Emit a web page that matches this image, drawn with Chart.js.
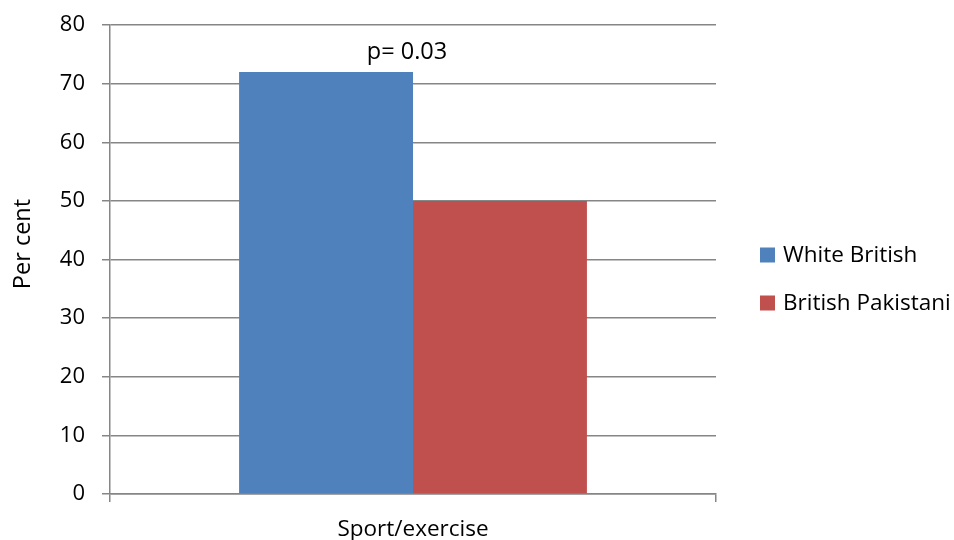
<!DOCTYPE html>
<html>
<head>
<meta charset="utf-8">
<script src="https://cdn.jsdelivr.net/npm/chart.js@4"></script>
<style>
  html, body { margin: 0; padding: 0; background: #fff; }
  #wrap { width: 954px; height: 540px; }
</style>
</head>
<body>
<div id="wrap"><canvas id="c" width="954" height="540"></canvas></div>
<script>
const categories = ['Sport/exercise'];
const seriesNames = ['White British', 'British Pakistani'];
const whiteBritish = [72];
const britishPakistani = [50];
const seriesColors = ['#4F81BD', '#C0504D'];
const yTicks = [0, 10, 20, 30, 40, 50, 60, 70, 80];
const yTitle = 'Per cent';
const annotationText = 'p= 0.03';

const FONT = '"Open Sans", "Noto Sans", sans-serif';
const AXIS_GREY = '#868686';

// Legend drawn to the right of the plot area
const sideLegend = {
  id: 'sideLegend',
  afterDraw(chart) {
    const ctx = chart.ctx;
    ctx.save();
    ctx.font = '22.5px ' + FONT;
    ctx.textBaseline = 'middle';
    ctx.textAlign = 'left';
    chart.data.datasets.forEach((ds, i) => {
      const y = 255 + i * 48;
      ctx.fillStyle = ds.backgroundColor;
      ctx.fillRect(760, y - 7.5, 15, 15);
      ctx.fillStyle = '#000';
      ctx.fillText(ds.label, 783, y + 1);
    });
    ctx.restore();
  }
};

// Rotated y-axis title and significance note
const extraText = {
  id: 'extraText',
  afterDraw(chart) {
    const ctx = chart.ctx;
    ctx.save();
    ctx.fillStyle = '#000';
    ctx.font = '23.5px ' + FONT;
    ctx.textAlign = 'center';
    ctx.textBaseline = 'middle';
    ctx.translate(23, 244);
    ctx.rotate(-Math.PI / 2);
    ctx.fillText(yTitle, 0, 0);
    ctx.restore();

    ctx.save();
    const x = chart.scales.x.getPixelForValue(0);
    const y = chart.scales.y.getPixelForValue(74.2);
    ctx.font = '23.5px ' + FONT;
    ctx.fillStyle = '#000';
    ctx.textAlign = 'center';
    ctx.textBaseline = 'alphabetic';
    ctx.fillText(annotationText, x - 6, y);
    ctx.restore();
  }
};

new Chart(document.getElementById('c'), {
  type: 'bar',
  data: {
    labels: categories,
    datasets: [
      { label: seriesNames[0], data: whiteBritish, backgroundColor: seriesColors[0] },
      { label: seriesNames[1], data: britishPakistani, backgroundColor: seriesColors[1] }
    ]
  },
  options: {
    responsive: false,
    animation: false,
    devicePixelRatio: 1,
    layout: { padding: { left: 0, right: 238, top: 25, bottom: 0 } },
    datasets: { bar: { categoryPercentage: 0.574, barPercentage: 1, borderWidth: 0 } },
    plugins: {
      legend: { display: false },
      tooltip: { enabled: false }
    },
    scales: {
      x: {
        grid: { drawOnChartArea: false, color: AXIS_GREY, tickLength: 8, lineWidth: 1.5 },
        border: { color: AXIS_GREY, width: 1.5 },
        ticks: { color: '#000', font: { family: FONT, size: 22.5 }, padding: 14 },
        afterFit(scale) { scale.height = 46; scale.paddingLeft = 0; scale.paddingRight = 0; }
      },
      y: {
        min: 0, max: 80,
        afterBuildTicks(scale) { scale.ticks = yTicks.map(v => ({ value: v })); },
        grid: { color: AXIS_GREY, tickLength: 8, lineWidth: 1.5 },
        border: { color: AXIS_GREY, width: 1.5 },
        ticks: { color: '#000', font: { family: FONT, size: 22 }, padding: 17 },
        afterFit(scale) { scale.width = 110; scale.paddingTop = 0; scale.paddingBottom = 0; }
      }
    }
  },
  plugins: [extraText, sideLegend]
});
</script>
</body>
</html>
